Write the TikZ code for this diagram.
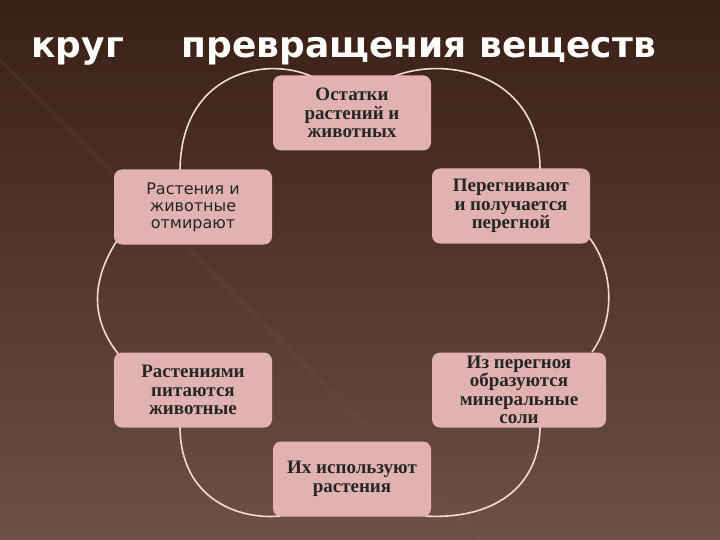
\documentclass[tikz,border=0pt]{standalone}
\usepackage{fontspec}
\setmainfont{Liberation Serif}
\newfontfamily\sansf{DejaVu Sans}
\newfontfamily\titlef{DejaVu Sans}
\begin{document}
\begin{tikzpicture}[x=1pt,y=-1pt,
 box/.style={rounded corners=8pt,fill=boxpink,draw=none,minimum width=158pt,minimum height=75pt,align=center,font=\fontsize{19}{18.5}\selectfont\bfseries,text=black!85},
 arc/.style={draw=arccol,line width=1.6pt}]
\definecolor{boxpink}{HTML}{E2B2B2}
\definecolor{arccol}{HTML}{F3DCCB}
\definecolor{bgtop}{HTML}{3A1F15}
\definecolor{bgbot}{HTML}{6E5045}
\shade[top color=bgtop,bottom color=bgbot] (0,0) rectangle (720,540);
\useasboundingbox (0,0) rectangle (720,540);
\draw[bgbot!80!white,opacity=0.25,line width=0.8pt] (0,60) -- (480,540);
\node[font=\titlef\fontsize{36}{38}\selectfont\bfseries,text=white,anchor=base west] (t1) at (28,58) {круг};
\node[font=\titlef\fontsize{36}{38}\selectfont\bfseries,text=white,anchor=base west] (t2) at (178,58) {превращения веществ};
% arcs (behind boxes)
\coordinate (a1) at (180,172); \coordinate (a2) at (315,78);
\draw[arc] (a1) .. controls (180,70) and (270,55) .. (a2);
\coordinate (b1) at (390,78); \coordinate (b2) at (540,170);
\draw[arc] (b1) .. controls (440,55) and (540,70) .. (b2);
\coordinate (c1) at (588,236); \coordinate (c2) at (592,352);
\draw[arc] (c1) .. controls (615,270) and (615,320) .. (c2);
\coordinate (d1) at (120,236); \coordinate (d2) at (120,356);
\draw[arc] (d1) .. controls (90,280) and (90,320) .. (d2);
\coordinate (e1) at (180,426); \coordinate (e2) at (280,516);
\draw[arc] (e1) .. controls (180,500) and (240,520) .. (e2);
\coordinate (f1) at (425,516); \coordinate (f2) at (540,426);
\draw[arc] (f1) .. controls (490,520) and (540,490) .. (f2);
\node[box] (n1) at (352,113) {Остатки\\растений и\\животных};
\node[box,font=\sansf\fontsize{16}{17}\selectfont,text=black!85] (n2) at (193,207) {Растения и\\животные\\отмирают};
\node[box] (n3) at (511,206) {Перегнивают\\и получается\\перегной};
\node[box] (n4) at (193,390) {Растениями\\питаются\\животные};
\node[box,minimum width=174pt,inner ysep=0pt,minimum height=75pt] (n5) at (519,390) {Из перегноя\\образуются\\минеральные\\соли};
\node[box] (n6) at (352,479) {Их используют\\растения};
\end{tikzpicture}
\end{document}
